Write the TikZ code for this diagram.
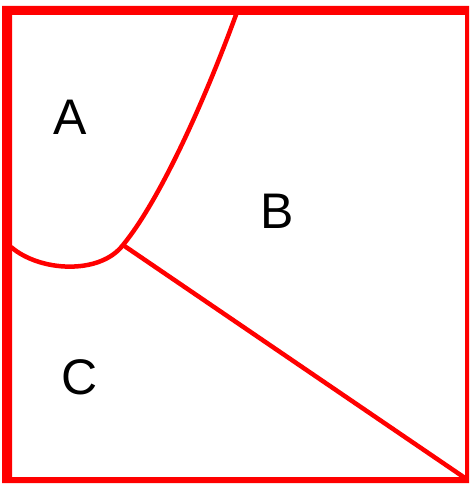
\documentclass[tikz,border=0pt]{standalone}
\usepackage{fontspec}
\setmainfont{Liberation Sans}
\usetikzlibrary{positioning}

\begin{document}
\begin{tikzpicture}[x=1pt,y=-1pt,
      lbl/.style={font=\fontsize{50}{60}\selectfont,inner sep=0pt},
      edge/.style={red,line width=4.5pt}]
      \useasboundingbox (0,0) rectangle (469,486);
      \fill[red,even odd rule] (2,6) rectangle (469,483) (12,15) rectangle (465,477);
      \coordinate (top) at (237,12);
      \coordinate (mid) at (123,245);
      \coordinate (left) at (11,247);
      \coordinate (corner) at (465,478);
      \draw[edge] (top) .. controls (205,100) and (160,200) .. (mid)
         .. controls (100,275) and (40,272) .. (left);
      \draw[edge] (mid) -- (corner);
      \node[lbl] (a) at (70,117) {A};
      \node[lbl] (b) at (277,211) {B};
      \node[lbl] (c) at (80,377) {C};
    \end{tikzpicture}
\end{document}
